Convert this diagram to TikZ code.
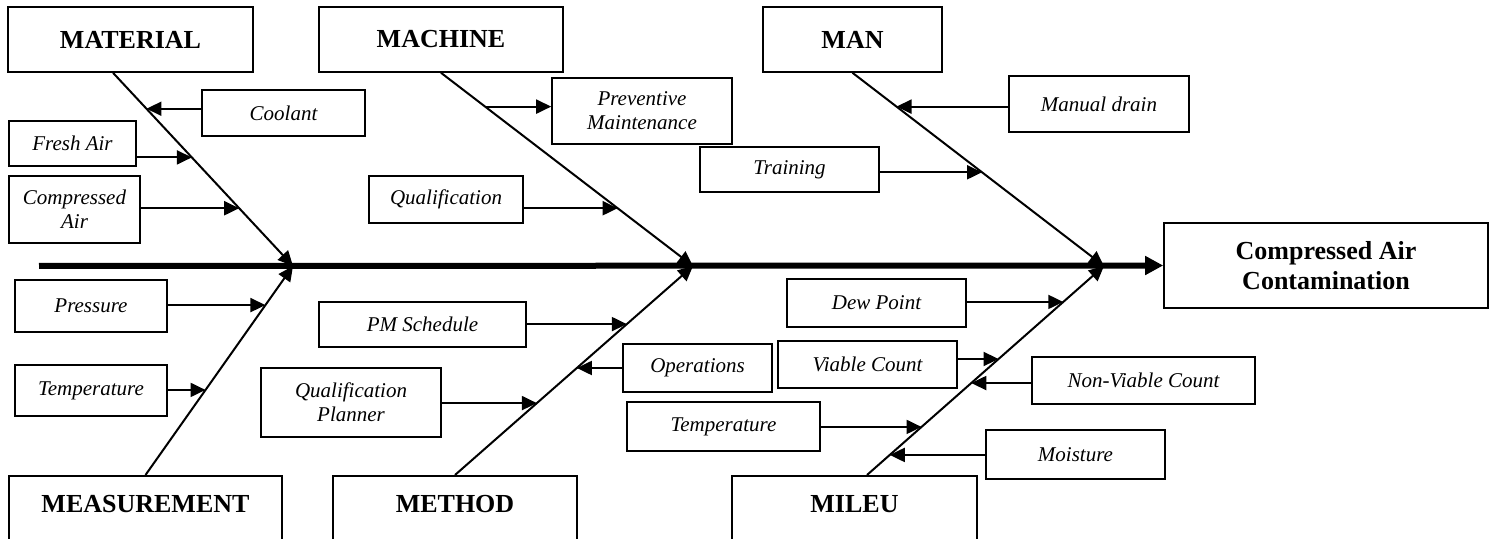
\documentclass[tikz,border=0pt]{standalone}
\usepackage{fontspec}
\setmainfont{Liberation Serif}
\usetikzlibrary{arrows.meta,calc}

\begin{document}
\begin{tikzpicture}[x=0.5pt,y=-0.5pt,
    cat/.style={draw,line width=0.8pt,minimum height=32.5pt,inner sep=2pt,
        font=\fontsize{13}{15}\selectfont\bfseries},
    catlow/.style={cat,anchor=north,minimum height=35pt,text depth=7pt},
    cause/.style={draw,line width=0.8pt,inner sep=2pt,align=center,
        font=\fontsize{10.5}{12}\selectfont\itshape},
    bone/.style={line width=1pt,->},
    twig/.style={line width=1pt,->},
    spine/.style={line width=3pt,-{Triangle[length=9pt,width=9pt]}}]
\useasboundingbox (0,0) rectangle (1493,539);
\clip (0,0) rectangle (1493,539);
\begin{scope}[>={Triangle[length=7.5pt,width=7pt]}]

    % effect and categories
    \node[cat,align=center,minimum width=162pt,minimum height=42.5pt] (effect) at (1326,265.5) {Compressed Air\\Contamination};
    \node[cat,minimum width=122.5pt] (material) at (130.5,39.5) {MATERIAL};
    \node[cat,minimum width=122pt] (machine) at (441,39.5) {MACHINE};
    \node[cat,minimum width=89.5pt] (man) at (852.5,39.5) {MAN};
    \node[catlow,minimum width=136.5pt] (measurement) at (145.5,475) {MEASUREMENT};
    \node[catlow,minimum width=122pt] (method) at (455,475) {METHOD};
    \node[catlow,minimum width=122.5pt] (mileu) at (854.5,475) {MILEU};

    % causes
    \node[cause,minimum width=81.5pt,minimum height=23pt] (coolant) at (283.5,113) {Coolant};
    \node[cause,minimum width=63.5pt,minimum height=22.5pt] (fresh) at (72.5,143.5) {Fresh Air};
    \node[cause,minimum width=65.5pt,minimum height=33.5pt] (compair) at (74.5,209.5) {Compressed\\Air};
    \node[cause,minimum width=77pt,minimum height=23.5pt] (qualif) at (446,199.5) {Qualification};
    \node[cause,minimum width=90pt,minimum height=33pt] (prevmaint) at (642,111) {Preventive\\Maintenance};
    \node[cause,minimum width=89.5pt,minimum height=22.5pt] (training) at (789.5,169.5) {Training};
    \node[cause,minimum width=90pt,minimum height=28pt] (manual) at (1099,104) {Manual drain};
    \node[cause,minimum width=76pt,minimum height=26pt] (pressure) at (91,306) {Pressure};
    \node[cause,minimum width=76pt,minimum height=25.5pt] (templeft) at (91,390.5) {Temperature};
    \node[cause,minimum width=103.5pt,minimum height=22.5pt] (pmsched) at (422.5,324.5) {PM Schedule};
    \node[cause,minimum width=90pt,minimum height=34.5pt] (qplanner) at (351,402.5) {Qualification\\Planner};
    \node[cause,minimum width=74.5pt,minimum height=24pt] (operations) at (697.5,368) {Operations};
    \node[cause,minimum width=89.5pt,minimum height=24pt] (dewpoint) at (876.5,303) {Dew Point};
    \node[cause,minimum width=89.5pt,minimum height=23.5pt] (viable) at (867.5,364.5) {Viable Count};
    \node[cause,minimum width=96.5pt,minimum height=24.5pt] (tempright) at (723.5,426.5) {Temperature};
    \node[cause,minimum width=111.5pt,minimum height=23.5pt] (nonviable) at (1143.5,380.5) {Non-Viable Count};
    \node[cause,minimum width=89.5pt,minimum height=24.5pt] (moisture) at (1075.5,454.5) {Moisture};

    % spine and bones
    \coordinate (tail) at (39,266);
    \coordinate (j1) at (293,266);
    \coordinate (j2) at (693,266);
    \coordinate (j3) at (1104,266);
    \coordinate (s1) at ([xshift=-8.75pt]material.south);
    \coordinate (s6) at ([xshift=6.25pt]mileu.north);
    \draw[spine] (tail) -- (effect.west);
    \draw[bone] (s1) -- (j1);
    \draw[bone] (machine.south) -- (j2);
    \draw[bone] (man.south) -- (j3);
    \draw[bone] (measurement.north) -- (j1);
    \draw[bone] (method.north) -- (j2);
    \draw[bone] (s6) -- (j3);

    % points on the bones
    \coordinate (m1) at ($(s1)!0.186!(j1)$);
    \coordinate (m2) at ($(s1)!0.438!(j1)$);
    \coordinate (m3) at ($(s1)!0.701!(j1)$);
    \coordinate (c1) at ($(machine.south)!0.175!(j2)$);
    \coordinate (c2) at ($(machine.south)!0.701!(j2)$);
    \coordinate (n1) at ($(man.south)!0.175!(j3)$);
    \coordinate (n2) at ($(man.south)!0.515!(j3)$);
    \coordinate (e1) at ($(measurement.north)!0.813!(j1)$);
    \coordinate (e2) at ($(measurement.north)!0.407!(j1)$);
    \coordinate (d1) at ($(method.north)!0.722!(j2)$);
    \coordinate (d2) at ($(method.north)!0.344!(j2)$);
    \coordinate (d3) at ($(method.north)!0.512!(j2)$);
    \coordinate (u1) at ($(s6)!0.828!(j3)$);
    \coordinate (u2) at ($(s6)!0.555!(j3)$);
    \coordinate (u3) at ($(s6)!0.440!(j3)$);
    \coordinate (u4) at ($(s6)!0.230!(j3)$);
    \coordinate (u5) at ($(s6)!0.096!(j3)$);

    % cause arrows
    \draw[twig] (coolant.west |- m1) -- (m1);
    \draw[twig] (fresh.east |- m2) -- (m2);
    \draw[twig] (compair.east |- m3) -- (m3);
    \draw[twig] (c1) -- (prevmaint.west |- c1);
    \draw[twig] (qualif.east |- c2) -- (c2);
    \draw[twig] (manual.west |- n1) -- (n1);
    \draw[twig] (training.east |- n2) -- (n2);
    \draw[twig] (pressure.east |- e1) -- (e1);
    \draw[twig] (templeft.east |- e2) -- (e2);
    \draw[twig] (pmsched.east |- d1) -- (d1);
    \draw[twig] (qplanner.east |- d2) -- (d2);
    \draw[twig] (operations.west |- d3) -- (d3);
    \draw[twig] (dewpoint.east |- u1) -- (u1);
    \draw[twig] (viable.east |- u2) -- (u2);
    \draw[twig] (nonviable.west |- u3) -- (u3);
    \draw[twig] (tempright.east |- u4) -- (u4);
    \draw[twig] (moisture.west |- u5) -- (u5);
\end{scope}
\end{tikzpicture}
\end{document}
